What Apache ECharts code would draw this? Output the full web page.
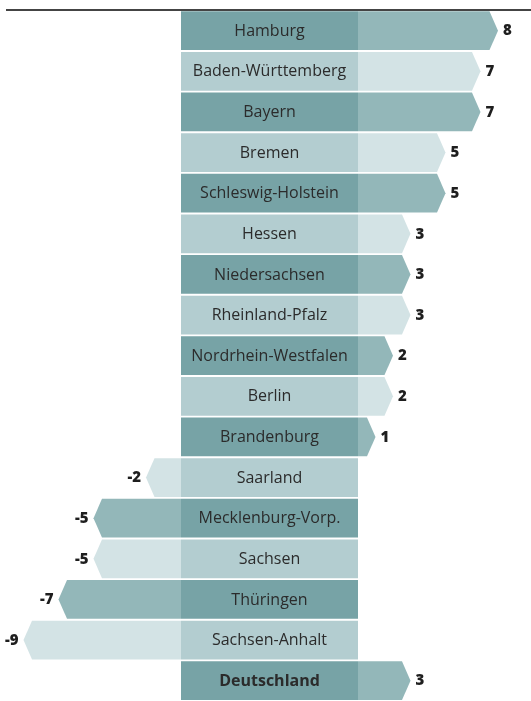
<!DOCTYPE html>
<html>
<head>
<meta charset="utf-8">
<script src="https://cdn.jsdelivr.net/npm/echarts@6/dist/echarts.min.js"></script>
<style>
  html, body { margin: 0; padding: 0; background: #fff; }
  #chart { width: 531px; height: 701px; }
</style>
</head>
<body>
<div id="chart"></div>
<script>
// Bundesländer, ordered top to bottom
const categories = [
  'Hamburg', 'Baden-Württemberg', 'Bayern', 'Bremen', 'Schleswig-Holstein',
  'Hessen', 'Niedersachsen', 'Rheinland-Pfalz', 'Nordrhein-Westfalen', 'Berlin',
  'Brandenburg', 'Saarland', 'Mecklenburg-Vorp.', 'Sachsen', 'Thüringen',
  'Sachsen-Anhalt', 'Deutschland'
];
const values = [8, 7, 7, 5, 5, 3, 3, 3, 2, 2, 1, -2, -5, -5, -7, -9, 3];
const totalLabel = 'Deutschland';

// palette: alternating dark / light rows
const boxDark = '#77a3a6', boxLight = '#b3cdd0';
const barDark = '#93b7b9', barLight = '#d3e3e5';

const UNIT = 17.5;          // px per unit on both value axes
const LEFT_W = 181;         // width of the negative side
const MID_W = 177;          // width of the name column
const RIGHT_W = 531 - LEFT_W - MID_W;
const TOP = 10.4, HEIGHT = 693.8;
const GAP = 1.8, HEAD = 8.5;

const posData = [], negData = [];
values.forEach((v, i) => { (v >= 0 ? posData : negData).push([v, i]); });
const boxData = categories.map((c, i) => [1, i]);

function arrow(params, api) {
  const v = api.value(0), i = api.value(1);
  const zero = api.coord([0, i]);
  const tip = api.coord([v, i]);
  const h = api.size([0, 1])[1] - GAP;
  const yc = zero[1], y0 = yc - h / 2, y1 = yc + h / 2;
  const dir = v >= 0 ? 1 : -1;
  const body = tip[0] - dir * HEAD;
  return {
    type: 'group',
    children: [
      {
        type: 'polygon',
        shape: { points: [[zero[0], y0], [body, y0], [tip[0], yc], [body, y1], [zero[0], y1]] },
        style: { fill: i % 2 === 0 ? barDark : barLight }
      },
      {
        type: 'text',
        x: tip[0] + dir * 5,
        y: yc + 0.5,
        style: {
          text: String(v),
          fill: '#1e1e1e',
          font: '800 15px "Open Sans", sans-serif',
          textAlign: dir > 0 ? 'left' : 'right',
          textVerticalAlign: 'middle'
        }
      }
    ]
  };
}

function nameBox(params, api) {
  const i = api.value(1);
  const a = api.coord([0, i]);
  const b = api.coord([1, i]);
  const h = api.size([0, 1])[1] - GAP;
  const name = categories[i];
  return {
    type: 'group',
    children: [
      {
        type: 'rect',
        shape: { x: a[0], y: a[1] - h / 2, width: b[0] - a[0], height: h },
        style: { fill: i % 2 === 0 ? boxDark : boxLight }
      },
      {
        type: 'text',
        x: (a[0] + b[0]) / 2,
        y: a[1] + 0.5,
        style: {
          text: name,
          fill: '#2b2b2b',
          font: (name === totalLabel ? 'bold ' : '') + '16px "Open Sans", sans-serif',
          textAlign: 'center',
          textVerticalAlign: 'middle'
        }
      }
    ]
  };
}

const yAxisBase = {
  type: 'category', data: categories, inverse: true,
  axisLine: { show: false }, axisTick: { show: false },
  axisLabel: { show: false }, splitLine: { show: false }
};
const xAxisBase = {
  type: 'value', axisLine: { show: false }, axisTick: { show: false },
  axisLabel: { show: false }, splitLine: { show: false }
};

const chart = echarts.init(document.getElementById('chart'), null, { renderer: 'canvas' });
chart.setOption({
  animation: false,
  grid: [
    { left: 0, width: LEFT_W, top: TOP, height: HEIGHT },
    { left: LEFT_W, width: MID_W, top: TOP, height: HEIGHT },
    { left: LEFT_W + MID_W, width: RIGHT_W, top: TOP, height: HEIGHT }
  ],
  xAxis: [
    Object.assign({ gridIndex: 0, min: -LEFT_W / UNIT, max: 0 }, xAxisBase),
    Object.assign({ gridIndex: 1, min: 0, max: 1 }, xAxisBase),
    Object.assign({ gridIndex: 2, min: 0, max: RIGHT_W / UNIT }, xAxisBase)
  ],
  yAxis: [
    Object.assign({ gridIndex: 0 }, yAxisBase),
    Object.assign({ gridIndex: 1 }, yAxisBase),
    Object.assign({ gridIndex: 2 }, yAxisBase)
  ],
  graphic: [{
    type: 'line',
    shape: { x1: 6, y1: 10, x2: 531, y2: 10 },
    style: { stroke: '#444', lineWidth: 2 }
  }],
  series: [
    { type: 'custom', xAxisIndex: 0, yAxisIndex: 0, data: negData, renderItem: arrow, clip: false },
    { type: 'custom', xAxisIndex: 1, yAxisIndex: 1, data: boxData, renderItem: nameBox, clip: false },
    { type: 'custom', xAxisIndex: 2, yAxisIndex: 2, data: posData, renderItem: arrow, clip: false }
  ]
});
</script>
</body>
</html>
